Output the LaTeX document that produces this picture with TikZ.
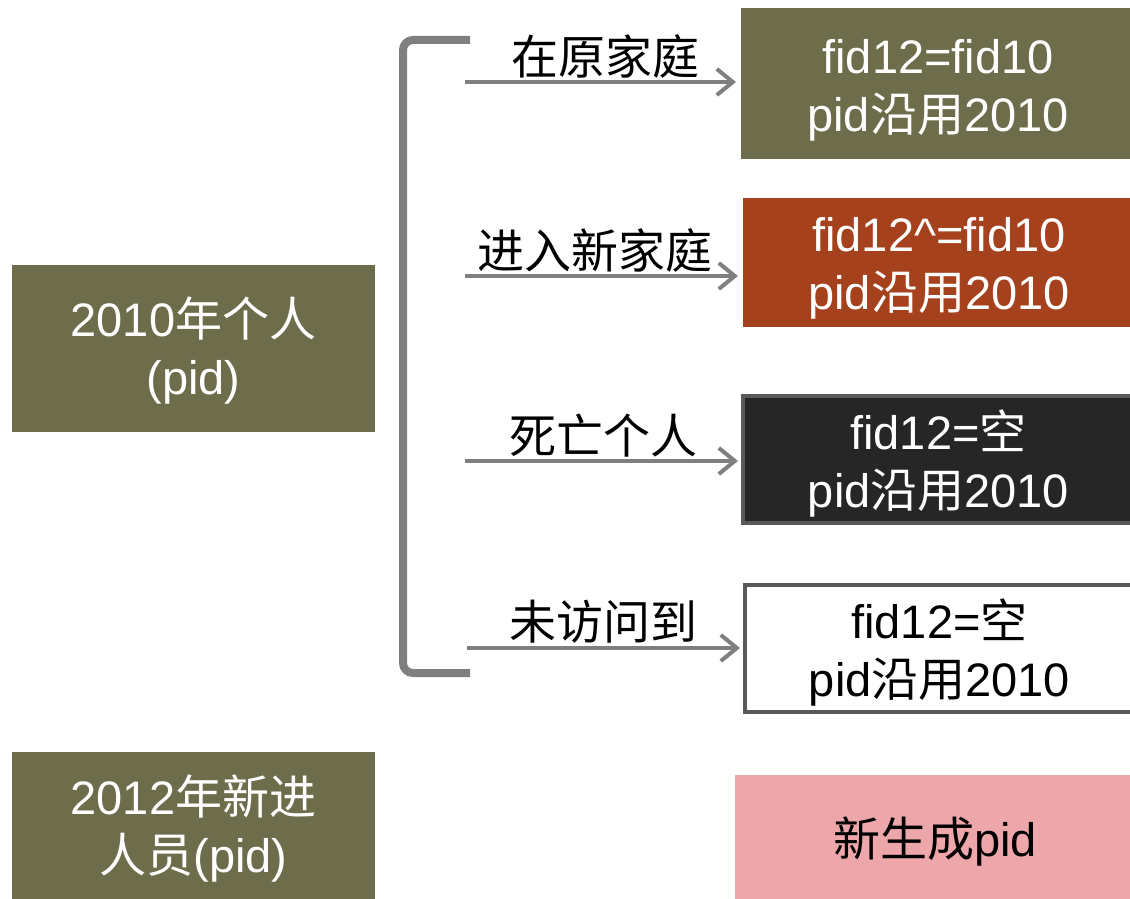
\documentclass[tikz,border=0pt]{standalone}
\usepackage{fontspec}
\setmainfont{Liberation Sans}
\newfontfamily\cjk{Noto Sans CJK SC}
\usetikzlibrary{arrows.meta}
\newcommand\zh[1]{{\cjk #1}}
\definecolor{boxolive}{HTML}{6E6D4B}
\definecolor{boxrust}{HTML}{A5421D}
\definecolor{boxdark}{HTML}{262626}
\definecolor{boxpink}{HTML}{EDA6A9}
\definecolor{linegray}{HTML}{7F7F7F}
\definecolor{bordergray}{HTML}{595959}
\begin{document}
\begin{tikzpicture}[x=1pt,y=-1pt,
  box/.style={inner sep=0pt, outer sep=0pt},
  framed/.style={box, draw=bordergray, line width=4pt},
  txt/.style={inner sep=0pt, align=center,
    font=\fontsize{47}{58}\selectfont, text=white},
  lbl/.style={inner sep=0pt, font=\fontsize{47}{58}\selectfont\cjk, text=black},
  arr/.style={draw=linegray, line width=4pt, shorten >=5pt,
    -{Straight Barb[length=16pt,width=26pt,line width=4pt]}},
  bracket/.style={draw=linegray, line width=8pt, rounded corners=10pt}]
\useasboundingbox (0,0) rectangle (1130,899);

% left boxes
\node[box, fill=boxolive, minimum width=363pt, minimum height=167pt] (p10) at (193.5,348.5) {};
\node[txt] (p10t) at ([yshift=-2pt]p10.center) {2010\zh{年个人}\\(pid)};
\node[box, fill=boxolive, minimum width=363pt, minimum height=147pt] (p12) at (193.5,825.5) {};
\node[txt] (p12t) at ([yshift=-3pt]p12.center) {2012\zh{年新进}\\\zh{人员}(pid)};

% right boxes
\node[box, fill=boxolive, minimum width=394pt, minimum height=151pt] (r1) at (938,83.5) {};
\node[txt] (r1t) at ([yshift=-7pt]r1.center) {fid12=fid10\\pid\zh{沿用}2010};
\node[box, fill=boxrust, minimum width=392pt, minimum height=129pt] (r2) at (939,262.5) {};
\node[txt] (r2t) at ([yshift=-6pt]r2.center) {fid12\^{}=fid10\\pid\zh{沿用}2010};
\node[framed, fill=boxdark, minimum width=391pt, minimum height=127pt] (r3) at (938.5,459.5) {};
\node[txt] (r3t) at ([yshift=-4pt]r3.center) {fid12=\zh{空}\\pid\zh{沿用}2010};
\node[framed, fill=white, minimum width=389pt, minimum height=127pt] (r4) at (939.5,648.5) {};
\node[txt, text=black] (r4t) at ([yshift=-4pt]r4.center) {fid12=\zh{空}\\pid\zh{沿用}2010};
\node[box, fill=boxpink, minimum width=400pt, minimum height=124pt] (r5) at (935,837) {};
\node[txt, text=black] (r5t) at ([yshift=-5pt]r5.center) {\zh{新生成}pid};

% bracket
\draw[bracket] (470,40) -- (403,40) -- (403,673) -- (470,673);

% arrows
\coordinate (a1) at (465,82);
\coordinate (a2) at (465,276);
\coordinate (a3) at (465,461);
\coordinate (a4) at (467,648);
\draw[arr] (a1) -- (a1 -| r1.west);
\draw[arr] (a2) -- (a2 -| r2.west);
\draw[arr] (a3) -- (a3 -| r3.west);
\draw[arr] (a4) -- (a4 -| r4.west);

% labels
\node[lbl] (l1) at (605,56) {在原家庭};
\node[lbl] (l2) at (595,250) {进入新家庭};
\node[lbl] (l3) at (603,436) {死亡个人};
\node[lbl] (l4) at (603,622) {未访问到};
\end{tikzpicture}
\end{document}
